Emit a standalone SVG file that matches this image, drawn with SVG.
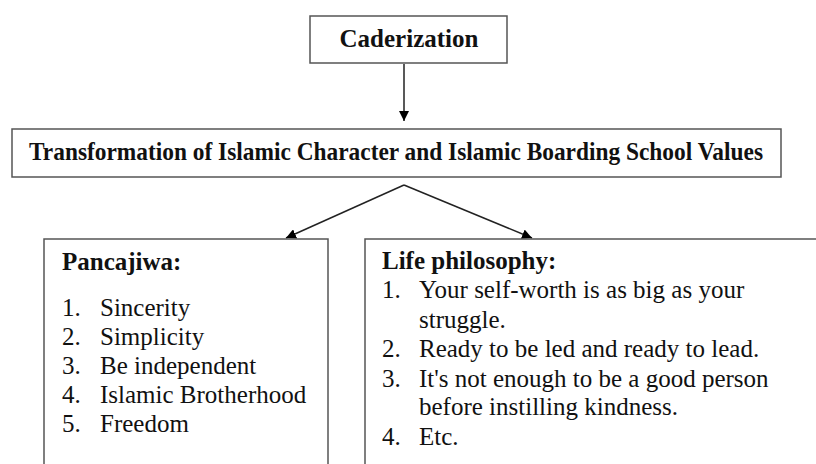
<svg xmlns="http://www.w3.org/2000/svg" width="816" height="464" viewBox="0 0 816 464">
<style>
.box{fill:#fff;stroke:#555;stroke-width:1.5}
.ln{stroke:#222;stroke-width:1.5;fill:none}
.t{font-family:'Liberation Serif','Times New Roman',serif;font-size:25px;fill:#111}
.b{font-weight:bold}
</style>
<defs>
<marker id="ah" viewBox="0 0 10 10" refX="10" refY="5" markerWidth="10" markerHeight="10" markerUnits="userSpaceOnUse" orient="auto">
<path d="M0,0 L10,5 L0,10 Z" fill="#000"/>
</marker>
</defs>
<rect width="816" height="464" fill="#fff"/>
<g id="connectors">
<line class="ln" x1="404" y1="64" x2="404" y2="121" marker-end="url(#ah)"/>
<polyline class="ln" points="404,185 286,238" marker-end="url(#ah)"/>
<polyline class="ln" points="404,185 532,238" marker-end="url(#ah)"/>
</g>
<g class="t">
<g id="caderization">
<rect class="box" x="310" y="16" width="197" height="47"/>
<text class="b" x="409" y="47" text-anchor="middle">Caderization</text>
</g>
<g id="transformation">
<rect class="box" x="12" y="129" width="769" height="48"/>
<text class="b" x="29" y="160" textLength="734" lengthAdjust="spacingAndGlyphs">Transformation of Islamic Character and Islamic Boarding School Values</text>
</g>
<g id="pancajiwa">
<rect class="box" x="44" y="239" width="284" height="240"/>
<text class="b" x="62" y="270">Pancajiwa:</text>
<text x="62" y="316">1.</text><text x="100" y="316">Sincerity</text>
<text x="62" y="345">2.</text><text x="100" y="345">Simplicity</text>
<text x="62" y="374">3.</text><text x="100" y="374">Be independent</text>
<text x="62" y="403">4.</text><text x="100" y="403">Islamic Brotherhood</text>
<text x="62" y="432">5.</text><text x="100" y="432">Freedom</text>
</g>
<g id="life-philosophy">
<rect class="box" x="365" y="239" width="470" height="240"/>
<text class="b" x="382" y="269">Life philosophy:</text>
<text x="382" y="298">1.</text><text x="419" y="298">Your self-worth is as big as your</text>
<text x="419" y="328">struggle.</text>
<text x="382" y="357">2.</text><text x="419" y="357">Ready to be led and ready to lead.</text>
<text x="382" y="387">3.</text><text x="419" y="387">It's not enough to be a good person</text>
<text x="419" y="415">before instilling kindness.</text>
<text x="382" y="445">4.</text><text x="419" y="445">Etc.</text>
</g>
</g>
</svg>
